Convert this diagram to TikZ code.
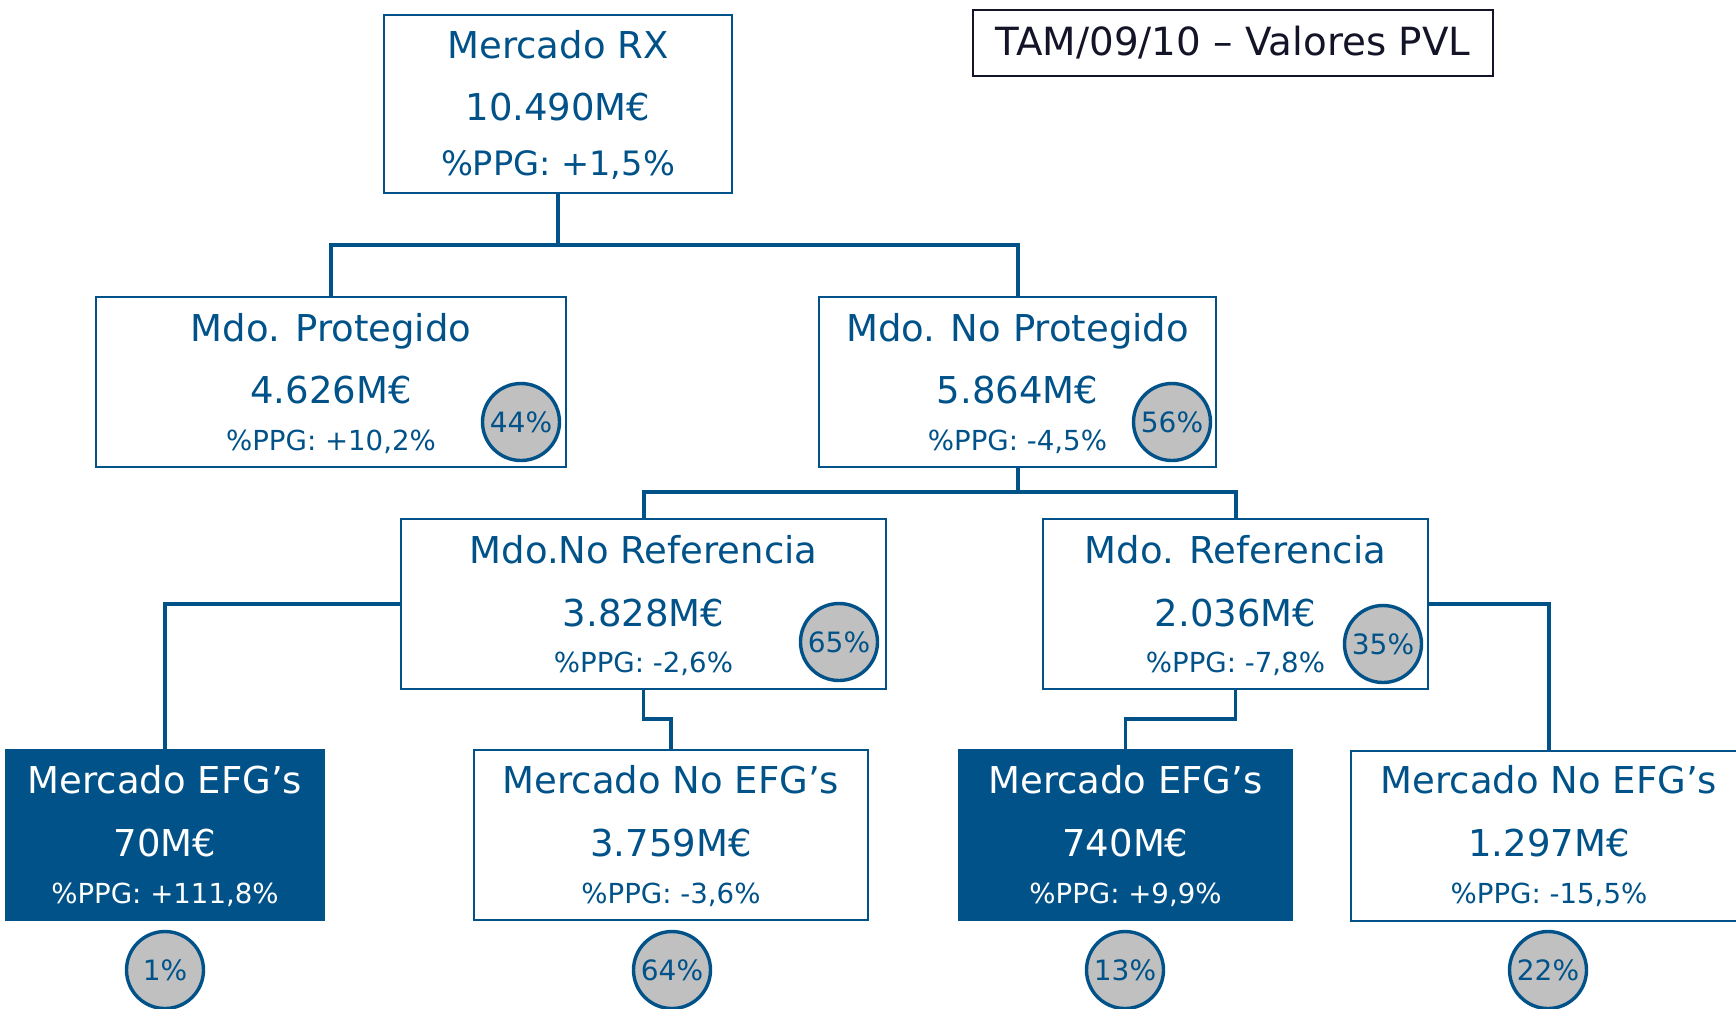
\documentclass[tikz,border=0pt]{standalone}
\usepackage{fontspec}
\setmainfont{DejaVu Sans}
\definecolor{rxblue}{RGB}{0,82,137}
\definecolor{pctgray}{RGB}{192,192,192}
\definecolor{tamink}{RGB}{20,20,40}
\begin{document}
\begin{tikzpicture}[x=0.5pt,y=-0.5pt,
  wbox/.style={rectangle,draw=rxblue,line width=1.2pt,fill=white,inner sep=0pt},
  bbox/.style={rectangle,fill=rxblue,draw=none,inner sep=0pt},
  ttl/.style={anchor=base,text=rxblue,inner sep=0pt,font=\fontsize{18.5}{22}\selectfont},
  ppgbig/.style={anchor=base,text=rxblue,inner sep=0pt,font=\fontsize{16.8}{20}\selectfont},
  ppg/.style={anchor=base,text=rxblue,inner sep=0pt,font=\fontsize{13.8}{16}\selectfont},
  pct/.style={circle,draw=rxblue,line width=1.7pt,fill=pctgray,minimum size=38.5pt,inner sep=0pt,text=rxblue,font=\fontsize{14}{16}\selectfont},
  conn/.style={draw=rxblue,line width=2pt},
  conn2/.style={draw=rxblue,line width=1.6pt},
  tambox/.style={rectangle,draw=tamink,line width=1.4pt,fill=white,inner sep=0pt,text=tamink,font=\fontsize{19.4}{22}\selectfont}
]
\useasboundingbox (0,0) rectangle (1736,1008);

% boxes
\node[wbox,minimum width=174pt,minimum height=89pt] (rx) at (558,104) {};
\node[wbox,minimum width=235pt,minimum height=85pt] (prot) at (331,382) {};
\node[wbox,minimum width=198.5pt,minimum height=85pt] (noprot) at (1017.5,382) {};
\node[wbox,minimum width=242.5pt,minimum height=85pt] (noref) at (643.5,604) {};
\node[wbox,minimum width=192.5pt,minimum height=85pt] (ref) at (1235.5,604) {};
\node[bbox,minimum width=160pt,minimum height=86pt] (efgA) at (165,835) {};
\node[wbox,minimum width=197pt,minimum height=85pt] (noefgA) at (671,835) {};
\node[bbox,minimum width=167.5pt,minimum height=86pt] (efgB) at (1125.5,835) {};
\node[wbox,minimum width=198pt,minimum height=85pt] (noefgB) at (1549,836) {};

% connectors
\coordinate (j1) at (558,245);
\coordinate (j2) at (1017.5,492);
\coordinate (j3) at (643.5,719);
\coordinate (j4) at (1235.5,719);
\path[conn] (rx.south) -- (j1);
\path[conn] (j1) -| (prot.north);
\path[conn] (j1) -| (noprot.north);
\path[conn] (noprot.south) -- (j2);
\path[conn] (j2) -| (noref.north);
\path[conn] (j2) -| (ref.north);
\path[conn2] (noref.west) -| (efgA.north);
\path[conn2] (noref.south) -- (j3) -| (noefgA.north);
\path[conn2] (ref.south) -- (j4) -| (efgB.north);
\path[conn2] (ref.east) -| (noefgB.north);

% texts
\node[ttl] (rxT) at (558,58) {Mercado RX};
\node[ttl] (rxV) at (558,120) {10.490M€};
\node[ppgbig] (rxP) at (558,175) {\%PPG: +1,5\%};

\node[ttl] (protT) at (331,341) {Mdo. Protegido};
\node[ttl] (protV) at (331,403) {4.626M€};
\node[ppg] (protP) at (331,450) {\%PPG: +10,2\%};

\node[ttl] (noprotT) at (1017.5,341) {Mdo. No Protegido};
\node[ttl] (noprotV) at (1017.5,403) {5.864M€};
\node[ppg] (noprotP) at (1017.5,450) {\%PPG: -4,5\%};

\node[ttl] (norefT) at (643.5,563) {Mdo.No Referencia};
\node[ttl] (norefV) at (643.5,626) {3.828M€};
\node[ppg] (norefP) at (643.5,672) {\%PPG: -2,6\%};

\node[ttl] (refT) at (1235.5,563) {Mdo. Referencia};
\node[ttl] (refV) at (1235.5,626) {2.036M€};
\node[ppg] (refP) at (1235.5,672) {\%PPG: -7,8\%};

\node[ttl,text=white] (efgAT) at (165,793) {Mercado EFG’s};
\node[ttl,text=white] (efgAV) at (165,856) {70M€};
\node[ppg,text=white] (efgAP) at (165,903) {\%PPG: +111,8\%};

\node[ttl] (noefgAT) at (671,793) {Mercado No EFG’s};
\node[ttl] (noefgAV) at (671,856) {3.759M€};
\node[ppg] (noefgAP) at (671,903) {\%PPG: -3,6\%};

\node[ttl,text=white] (efgBT) at (1125.5,793) {Mercado EFG’s};
\node[ttl,text=white] (efgBV) at (1125.5,856) {740M€};
\node[ppg,text=white] (efgBP) at (1125.5,903) {\%PPG: +9,9\%};

\node[ttl] (noefgBT) at (1549,793) {Mercado No EFG’s};
\node[ttl] (noefgBV) at (1549,856) {1.297M€};
\node[ppg] (noefgBP) at (1549,903) {\%PPG: -15,5\%};

% percentage circles
\node[pct] (c44) at (521,422) {44\%};
\node[pct] (c56) at (1172,422) {56\%};
\node[pct] (c65) at (839,642) {65\%};
\node[pct] (c35) at (1383,644) {35\%};
\node[pct] (c1) at (165,970) {1\%};
\node[pct] (c64) at (672,970) {64\%};
\node[pct] (c13) at (1125,970) {13\%};
\node[pct] (c22) at (1548,970) {22\%};

% title box
\node[tambox,minimum width=260pt,minimum height=33pt] (tam) at (1233,43) {TAM/09/10 – Valores PVL};
\end{tikzpicture}
\end{document}
